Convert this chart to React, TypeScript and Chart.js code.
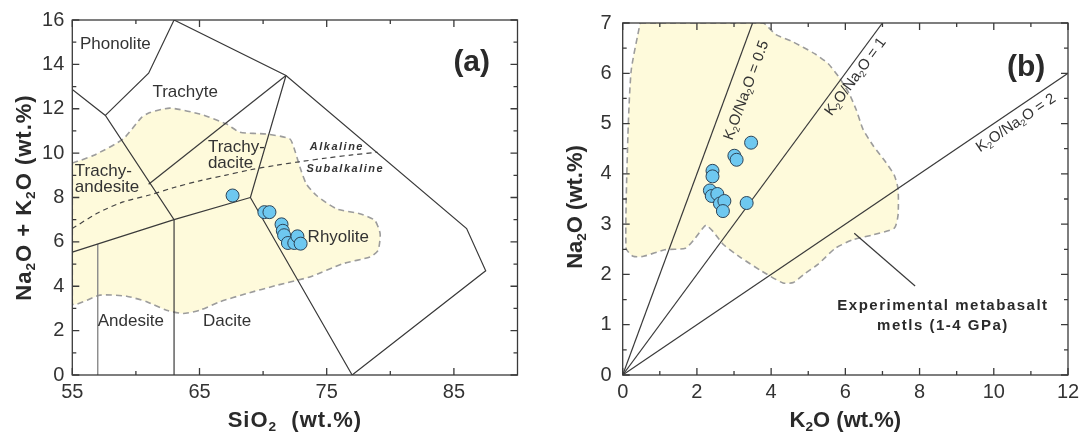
import React, { useEffect, useRef } from 'react';
import { Chart, registerables } from 'chart.js';

Chart.register(...registerables);

const FONT = '"Liberation Sans", Arial, Helvetica, sans-serif';

// ---------- Panel (a): TAS diagram ----------
const sio2 = [67.6, 70.1, 70.5, 71.45, 71.55, 71.65, 71.95, 72.45, 72.7, 72.95];
const alkali = [8.09, 7.34, 7.34, 6.79, 6.5, 6.3, 5.95, 5.95, 6.25, 5.92];

const tasXTicks = [55, 65, 75, 85];
const tasXMinor = [60, 70, 80];
const tasYTicks = [0, 2, 4, 6, 8, 10, 12, 14, 16];
const tasYMinor = [1, 3, 5, 7, 9, 11, 13, 15];

// field boundaries (SiO2, Na2O+K2O)
const tasLine1 = [[55, 12.87], [57.6, 11.7], [63, 7], [63, 0]];
const tasLine2 = [[57.6, 11.7], [61, 13.6], [63, 16], [71.8, 13.5], [86, 6.6], [87.5, 4.7], [77, 0]];
const tasLine3 = [[61, 8.6], [71.8, 13.5]];
const tasLine4 = [[71.8, 13.5], [69, 8], [77, 0]];
const tasLine5 = [[55, 5.54], [63, 7], [69, 8]];
const tasLine6 = [[57, 0], [57, 5.9]];

// alkaline / subalkaline divide
const divideSiO2 = [55, 57, 59, 61, 63, 65, 67, 69, 71, 73, 75, 77, 79];
const divideAlk = [6.6, 7.3, 7.8, 8.1, 8.45, 8.75, 9.0, 9.25, 9.45, 9.62, 9.78, 9.92, 10.04];

// shaded field (experimental melts) on TAS
const fieldASiO2 = [55, 56.65, 59.0, 60.45, 61.1, 62.67, 65.03, 67.13, 68.17, 70.27, 72.1, 72.5, 72.9, 73.4, 74.2, 75.77, 77.6, 78.78, 79.2, 79.04, 78.4, 76.3, 73.67, 71.06, 68.7, 66.6, 65.03, 63.72, 62.4, 60.85, 59.27, 57.18, 55, 55];
const fieldAAlk = [9.55, 9.89, 10.64, 11.61, 11.83, 12.03, 11.76, 11.31, 10.94, 10.86, 10.64, 10.11, 9.36, 8.61, 8.09, 7.49, 7.27, 6.97, 6.37, 5.62, 5.32, 5.02, 4.42, 4.04, 3.67, 3.3, 2.92, 2.77, 2.92, 3.3, 3.55, 3.6, 3.22, 9.55];

const tasFieldNames = ['Phonolite', 'Trachyte', 'Trachy-', 'dacite', 'Trachy-', 'andesite', 'Rhyolite', 'Andesite', 'Dacite'];
const tasFieldSiO2 = [55.6, 61.3, 65.66, 65.66, 55.2, 55.2, 73.5, 57.0, 65.27];
const tasFieldAlk = [14.92, 12.72, 10.26, 9.54, 9.18, 8.44, 6.22, 2.44, 2.44];
const seriesNames = ['Alkaline', 'Subalkaline'];
const seriesSiO2 = [73.67, 73.41];
const seriesAlk = [10.29, 9.29];

// ---------- Panel (b): K2O vs Na2O ----------
const k2o = [3.46, 3.01, 3.07, 2.42, 2.42, 2.35, 2.4, 2.55, 2.62, 2.74, 2.7, 3.34];
const na2o = [4.62, 4.36, 4.28, 4.06, 3.95, 3.67, 3.56, 3.6, 3.41, 3.46, 3.26, 3.42];

const kXTicks = [0, 2, 4, 6, 8, 10, 12];
const kXMinor = [1, 3, 5, 7, 9, 11];
const naYTicks = [0, 1, 2, 3, 4, 5, 6, 7];
const naYMinor = [0.5, 1.5, 2.5, 3.5, 4.5, 5.5, 6.5];

const ratios = [0.5, 1, 2]; // K2O/Na2O
const ratioLabels = ['K_2O/Na_2O = 0.5', 'K_2O/Na_2O = 1', 'K_2O/Na_2O = 2'];
const ratioLabelK = [3.34, 6.28, 10.6];
const ratioLabelNa = [5.66, 5.93, 5.01];

const fieldBK = [0.47, 3.76, 3.85, 4.13, 4.6, 5.17, 5.54, 5.82, 6.1, 6.29, 6.48, 6.76, 7.09, 7.32, 7.42, 7.42, 7.32, 6.76, 6.2, 5.73, 5.26, 4.88, 4.6, 4.32, 3.76, 3.19, 2.72, 2.44, 2.25, 2.16, 1.92, 1.69, 1.13, 0.56, 0.28, 0.09, 0.14, 0.23, 0.47];
const fieldBNa = [7.0, 7.0, 6.97, 6.77, 6.62, 6.39, 6.19, 5.93, 5.6, 5.28, 4.88, 4.55, 4.23, 3.97, 3.7, 3.18, 2.92, 2.79, 2.69, 2.52, 2.2, 2.0, 1.84, 1.83, 2.06, 2.33, 2.59, 2.85, 2.98, 2.92, 2.69, 2.52, 2.49, 2.36, 2.36, 2.52, 4.75, 6.06, 7.0];

const leaderK = [6.24, 7.88];
const leaderNa = [2.82, 1.77];
const expLabel = ['Experimental metabasalt', 'metls (1-4 GPa)'];
const expLabelK = [8.63, 8.63];
const expLabelNa = [1.375, 0.98];

// ---------- helpers ----------
type Opt = { size: number; bold?: boolean; italic?: boolean; color?: string; align?: 'left' | 'center'; rotate?: number; spacing?: number };

function parseRich(s: string) {
  const out: { t: string; sub: boolean }[] = [];
  const re = /_(\d)/g;
  let last = 0;
  let m: RegExpExecArray | null;
  while ((m = re.exec(s))) {
    if (m.index > last) out.push({ t: s.slice(last, m.index), sub: false });
    out.push({ t: m[1], sub: true });
    last = re.lastIndex;
  }
  if (last < s.length) out.push({ t: s.slice(last), sub: false });
  return out;
}

function drawRich(ctx: CanvasRenderingContext2D, s: string, x: number, y: number, o: Opt) {
  const segs = parseRich(s);
  const font = (sz: number) => `${o.italic ? 'italic ' : ''}${o.bold ? 'bold ' : ''}${sz}px ${FONT}`;
  ctx.save();
  (ctx as any).letterSpacing = (o.spacing || 0) + 'px';
  let w = 0;
  const widths = segs.map((sg) => {
    ctx.font = font(sg.sub ? o.size * 0.62 : o.size);
    const ww = ctx.measureText(sg.t).width;
    w += ww;
    return ww;
  });
  ctx.translate(x, y);
  if (o.rotate) ctx.rotate(o.rotate);
  let cx = o.align === 'left' ? 0 : -w / 2;
  ctx.fillStyle = o.color || '#333';
  ctx.textBaseline = 'middle';
  ctx.textAlign = 'left';
  segs.forEach((sg, i) => {
    ctx.font = font(sg.sub ? o.size * 0.62 : o.size);
    ctx.fillText(sg.t, cx, sg.sub ? o.size * 0.3 : 0);
    cx += widths[i];
  });
  ctx.restore();
}

function axis(min: number, max: number, ticks: number[], fit: 'w' | 'h', size: number, pad: number) {
  return {
    type: 'linear',
    min,
    max,
    afterBuildTicks: (s: any) => {
      s.ticks = ticks.map((v) => ({ value: v }));
    },
    afterFit: (s: any) => {
      if (fit === 'w') s.width = size;
      else s.height = size;
    },
    grid: { display: false, drawTicks: false },
    border: { display: false },
    title: { display: false },
    ticks: { font: { family: FONT, size: 20 }, color: '#333', padding: pad, autoSkip: false, maxRotation: 0, minRotation: 0 },
  };
}

function drawFrame(chart: any, xMajor: number[], xMinor: number[], yMajor: number[], yMinor: number[]) {
  const ctx: CanvasRenderingContext2D = chart.ctx;
  const { left, right, top, bottom } = chart.chartArea;
  const xs = chart.scales.x;
  const ys = chart.scales.y;
  ctx.save();
  ctx.strokeStyle = '#3a3a3a';
  ctx.lineWidth = 1.3;
  ctx.strokeRect(left, top, right - left, bottom - top);
  ctx.beginPath();
  const tick = (vals: number[], len: number, horiz: boolean) => {
    vals.forEach((v) => {
      if (horiz) {
        const p = xs.getPixelForValue(v);
        ctx.moveTo(p, bottom); ctx.lineTo(p, bottom - len);
        ctx.moveTo(p, top); ctx.lineTo(p, top + len);
      } else {
        const p = ys.getPixelForValue(v);
        ctx.moveTo(left, p); ctx.lineTo(left + len, p);
        ctx.moveTo(right, p); ctx.lineTo(right - len, p);
      }
    });
  };
  tick(xMajor, 7, true);
  tick(xMinor, 4, true);
  tick(yMajor, 7, false);
  tick(yMinor, 4, false);
  ctx.stroke();
  ctx.restore();
}

const lineStyle = {
  type: 'line',
  borderColor: '#3a3a3a',
  borderWidth: 1.2,
  pointRadius: 0,
  pointHoverRadius: 0,
  fill: false,
  tension: 0,
  order: 1,
};

const pointStyle = {
  type: 'scatter',
  pointRadius: 6.5,
  backgroundColor: '#6ec8f0',
  borderColor: '#2d4457',
  borderWidth: 1,
  order: 0,
};

const fieldStyle = {
  type: 'line',
  fill: 'shape',
  backgroundColor: '#fefadb',
  borderColor: '#9c9c9c',
  borderDash: [6, 4],
  borderWidth: 1.6,
  pointRadius: 0,
  pointHoverRadius: 0,
  tension: 0.2,
  order: 2,
};

const toXY = (pairs: number[][]) => pairs.map(([x, y]) => ({ x, y }));
const zipXY = (xs: number[], ys: number[]) => xs.map((x, i) => ({ x, y: ys[i] }));

function buildA(): any {
  const plugin = {
    id: 'tasFrame',
    afterDatasetsDraw(chart: any) {
      const ctx: CanvasRenderingContext2D = chart.ctx;
      const xs = chart.scales.x;
      const ys = chart.scales.y;
      const { left, right, top, bottom } = chart.chartArea;
      drawFrame(chart, tasXTicks, tasXMinor, tasYTicks, tasYMinor);
      tasFieldNames.forEach((n, i) => {
        drawRich(ctx, n, xs.getPixelForValue(tasFieldSiO2[i]), ys.getPixelForValue(tasFieldAlk[i]), { size: 17, align: 'left', color: '#333' });
      });
      seriesNames.forEach((n, i) => {
        drawRich(ctx, n, xs.getPixelForValue(seriesSiO2[i]), ys.getPixelForValue(seriesAlk[i]), { size: 11, bold: true, italic: true, spacing: 1.5, align: 'left', color: '#333' });
      });
      drawRich(ctx, '(a)', xs.getPixelForValue(86.4), ys.getPixelForValue(14.07), { size: 30, bold: true, color: '#2a2a2a' });
      drawRich(ctx, 'Na_2O + K_2O (wt.%)', 24.5, (top + bottom) / 2, { size: 22, bold: true, rotate: -Math.PI / 2, spacing: 1, color: '#2a2a2a' });
      drawRich(ctx, 'SiO_2  (wt.%)', (left + right) / 2, 421, { size: 22, bold: true, spacing: 1, color: '#2a2a2a' });
    },
  };
  return {
    type: 'scatter',
    data: {
      datasets: [
        { ...pointStyle, data: zipXY(sio2, alkali) },
        { ...lineStyle, data: toXY(tasLine1) },
        { ...lineStyle, data: toXY(tasLine2) },
        { ...lineStyle, data: toXY(tasLine3) },
        { ...lineStyle, data: toXY(tasLine4) },
        { ...lineStyle, data: toXY(tasLine5) },
        { ...lineStyle, data: toXY(tasLine6), borderColor: '#8a8a8a', borderWidth: 1.4 },
        { ...lineStyle, data: zipXY(divideSiO2, divideAlk), borderDash: [5, 4], borderColor: '#444', tension: 0.3 },
        { ...fieldStyle, data: zipXY(fieldASiO2, fieldAAlk) },
      ],
    },
    options: {
      responsive: false,
      animation: false,
      devicePixelRatio: 1,
      events: [],
      layout: { padding: { left: 0, top: 18.8, right: 27.5, bottom: 0 } },
      plugins: { legend: { display: false }, tooltip: { enabled: false } },
      scales: {
        x: axis(55, 90, tasXTicks, 'h', 66, 5),
        y: axis(0, 16, tasYTicks, 'w', 72.3, 8),
      },
    },
    plugins: [plugin],
  };
}

function buildB(): any {
  const xMax = 12;
  const yMax = 7;
  const ratioLines = ratios.map((r) => [[0, 0], [Math.min(xMax, yMax * r), Math.min(yMax, xMax / r)]]);
  const plugin = {
    id: 'kFrame',
    afterDatasetsDraw(chart: any) {
      const ctx: CanvasRenderingContext2D = chart.ctx;
      const xs = chart.scales.x;
      const ys = chart.scales.y;
      const { left, right, top, bottom } = chart.chartArea;
      drawFrame(chart, kXTicks, kXMinor, naYTicks, naYMinor);
      ratioLines.forEach((l, i) => {
        const dx = xs.getPixelForValue(l[1][0]) - xs.getPixelForValue(0);
        const dy = ys.getPixelForValue(l[1][1]) - ys.getPixelForValue(0);
        const ang = Math.atan2(dy, dx);
        drawRich(ctx, ratioLabels[i], xs.getPixelForValue(ratioLabelK[i]), ys.getPixelForValue(ratioLabelNa[i]), { size: 15, rotate: ang, color: '#333' });
      });
      expLabel.forEach((t, i) => {
        drawRich(ctx, t, xs.getPixelForValue(expLabelK[i]), ys.getPixelForValue(expLabelNa[i]), { size: 15, bold: true, spacing: 1.5, color: '#2a2a2a' });
      });
      drawRich(ctx, '(b)', xs.getPixelForValue(10.87), ys.getPixelForValue(6.11), { size: 30, bold: true, color: '#2a2a2a' });
      drawRich(ctx, 'Na_2O (wt.%)', 31, 207, { size: 22, bold: true, rotate: -Math.PI / 2, color: '#2a2a2a' });
      drawRich(ctx, 'K_2O (wt.%)', (left + right) / 2, 421, { size: 22, bold: true, color: '#2a2a2a' });
    },
  };
  return {
    type: 'scatter',
    data: {
      datasets: [
        { ...pointStyle, data: zipXY(k2o, na2o) },
        ...ratioLines.map((l) => ({ ...lineStyle, data: toXY(l) })),
        { ...lineStyle, data: zipXY(leaderK, leaderNa) },
        { ...fieldStyle, data: zipXY(fieldBK, fieldBNa) },
      ],
    },
    options: {
      responsive: false,
      animation: false,
      devicePixelRatio: 1,
      events: [],
      layout: { padding: { left: 0, top: 18.5, right: 17, bottom: 0 } },
      plugins: { legend: { display: false }, tooltip: { enabled: false } },
      scales: {
        x: axis(0, 12, kXTicks, 'h', 66, 5),
        y: axis(0, 7, naYTicks, 'w', 77.7, 11),
      },
    },
    plugins: [plugin],
  };
}

export default function App() {
  const refA = useRef<HTMLCanvasElement>(null);
  const refB = useRef<HTMLCanvasElement>(null);
  useEffect(() => {
    const a = new Chart(refA.current as HTMLCanvasElement, buildA());
    const b = new Chart(refB.current as HTMLCanvasElement, buildB());
    return () => {
      a.destroy();
      b.destroy();
    };
  }, []);
  return (
    <div style={{ position: 'absolute', left: 0, top: 0, width: 1085, height: 441, background: '#fff' }}>
      <canvas ref={refA} width={545} height={441} style={{ position: 'absolute', left: 0, top: 0, width: 545, height: 441 }} />
      <canvas ref={refB} width={540} height={441} style={{ position: 'absolute', left: 545, top: 0, width: 540, height: 441 }} />
    </div>
  );
}
